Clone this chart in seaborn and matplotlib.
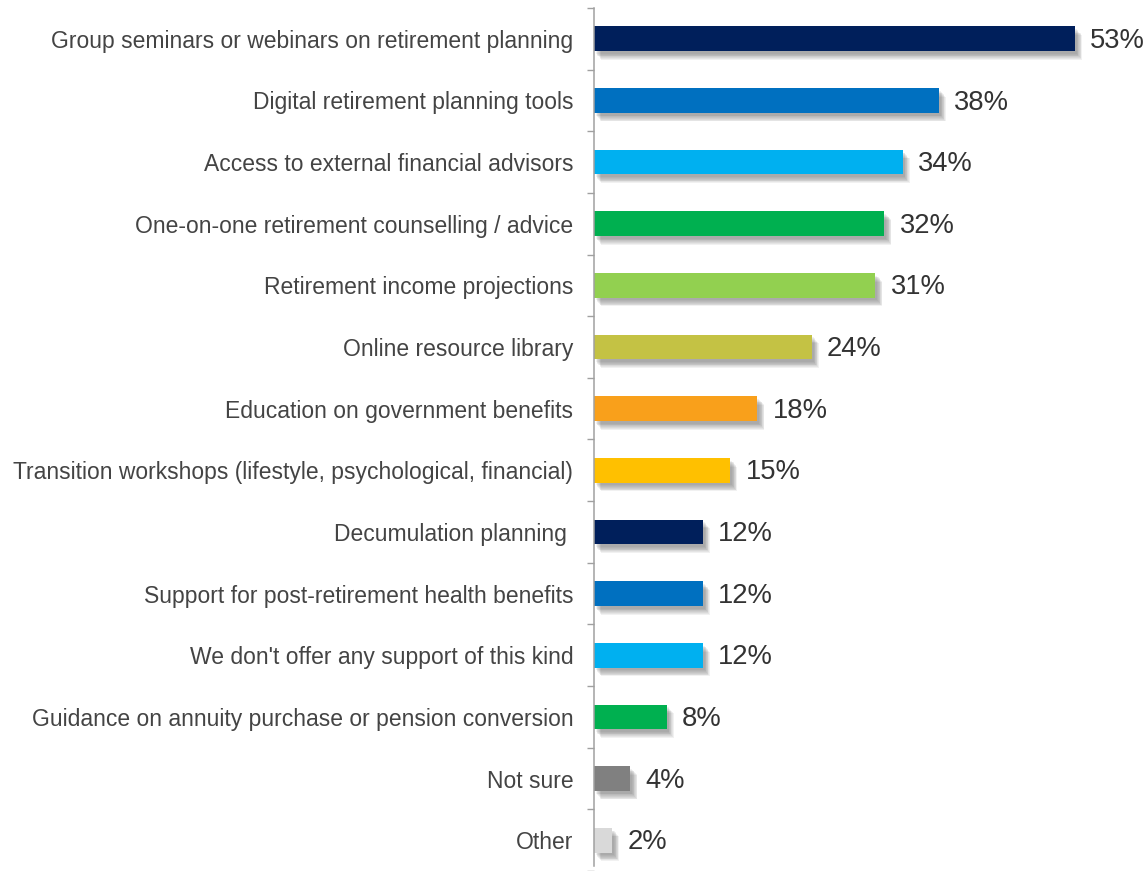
import matplotlib
matplotlib.use("Agg")
import matplotlib.pyplot as plt
import matplotlib.patheffects as pe
import numpy as np
import pandas as pd
import seaborn as sns

categories = [
    "Group seminars or webinars on retirement planning",
    "Digital retirement planning tools",
    "Access to external financial advisors",
    "One-on-one retirement counselling / advice",
    "Retirement income projections",
    "Online resource library",
    "Education on government benefits",
    "Transition workshops (lifestyle, psychological, financial)",
    "Decumulation planning ",
    "Support for post-retirement health benefits",
    "We don't offer any support of this kind",
    "Guidance on annuity purchase or pension conversion",
    "Not sure",
    "Other",
]
values = [53, 38, 34, 32, 31, 24, 18, 15, 12, 12, 12, 8, 4, 2]
colors = [
    "#001F5B", "#0070C0", "#00B0F0", "#00B050", "#92D050", "#C4C244",
    "#F9A01B", "#FFC000", "#001F5B", "#0070C0", "#00B0F0", "#00B050",
    "#808080", "#D9D9D9",
]

df = pd.DataFrame({"option": categories, "share": values})

sns.set_style("white")
plt.rcParams["font.family"] = ["Liberation Sans", "DejaVu Sans"]

fig = plt.figure(figsize=(11.47, 8.71), dpi=100)
ax = fig.add_axes([594 / 1147, 0, 1 - 594 / 1147, 1])

sns.barplot(data=df, x="share", y="option", hue="option", palette=colors,
            orient="h", width=0.4, legend=False, ax=ax, saturation=1)

# soft drop shadow under every bar
shadow = []
for k in range(8):
    shadow.append(pe.SimplePatchShadow(offset=(1.5 + 0.5 * k, -2.0 - 0.6 * k),
                                       shadow_rgbFace="#555555", alpha=0.08))
shadow.append(pe.Normal())
for bar in ax.patches:
    bar.set_linewidth(0)
    bar.set_path_effects(shadow)

for i, v in enumerate(values):
    ax.annotate(f"{v}%", xy=(v, i), xytext=(11, -1.5), textcoords="offset points",
                va="center", ha="left", fontsize=19.7, color="#333333")

row_px = 62
first_px = 39
ax.set_xlim(0, (1147 - 594) / ((1075 - 594) / 53))
ax.set_ylim((871 - first_px) / row_px, -first_px / row_px)

ax.set_xlabel("")
ax.set_ylabel("")
ax.set_xticks([])
for side in ["top", "right", "bottom"]:
    ax.spines[side].set_visible(False)
ax.spines["left"].set_color("#A0A0A0")
ax.spines["left"].set_linewidth(1.1)
ax.spines["left"].set_bounds(-0.5, (871 - first_px) / row_px)

ax.set_yticks(np.arange(len(categories)))
ax.set_yticklabels(categories)
ax.set_yticks(np.arange(len(categories) + 1) - 0.5, minor=True)
ax.tick_params(axis="y", which="major", length=0, pad=15, labelsize=16.5,
               labelcolor="#444444")
ax.tick_params(axis="y", which="minor", length=5, width=1.0, color="#A0A0A0",
               left=True)

fig.savefig("out.png", dpi=100)
